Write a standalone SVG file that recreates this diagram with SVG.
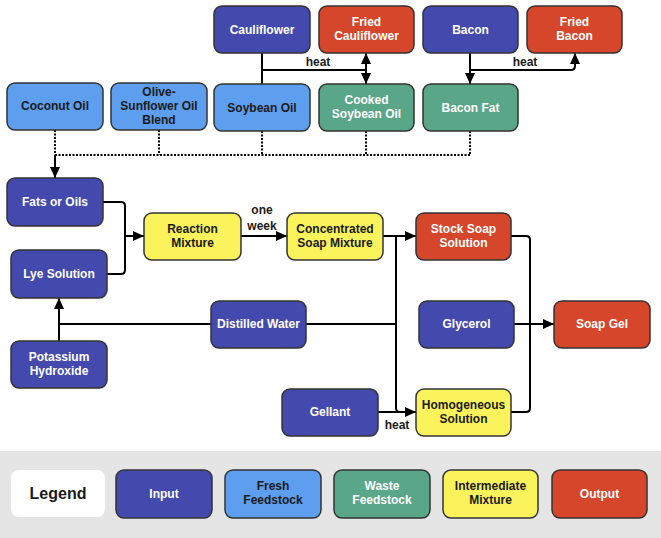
<svg xmlns="http://www.w3.org/2000/svg" width="661" height="538" viewBox="0 0 661 538">
<style>
.n{stroke:#333;stroke-width:1.5}
.in{fill:#4449ad}
.fr{fill:#5d9eee}
.wa{fill:#5aa688}
.im{fill:#fbf35b}
.ou{fill:#d5462b}
text{font-family:"Liberation Sans",Arial,sans-serif;font-weight:bold;font-size:12px;text-anchor:middle}
.w{fill:#fff}
.d{fill:#1a1a1a}
.lbl{fill:#1a1a1a}
.c{fill:none;stroke:#000;stroke-width:2}
.dot{fill:none;stroke:#000;stroke-width:2;stroke-dasharray:2 1.5}
.a{marker-end:url(#ah)}
</style>
<defs>
<marker id="ah" markerUnits="userSpaceOnUse" markerWidth="12" markerHeight="10" refX="11" refY="5" orient="auto">
<path d="M0,0 L11,5 L0,10 z" fill="#000"/>
</marker>
</defs>
<rect x="0" y="451" width="661" height="87" fill="#e5e5e5"/>
<g id="connectors">
<path class="c" d="M262,53 V84"/>
<path class="c" d="M262,70 H366"/>
<path class="c a" d="M366,70 V53"/>
<path class="c a" d="M366,70 V84"/>
<path class="c a" d="M470,53 V84"/>
<path class="c a" d="M470,70 H571 Q575,70 575,66 V53"/>
<path class="dot" d="M55,130 V155 M159,130 V155 M262,131 V155 M366,131 V155 M470,131 V155 M55,155 H470"/>
<path class="c a" d="M55,155 V178"/>
<path class="c" d="M103,202 H121 Q125,202 125,206 V270 Q125,274 121,274 H107"/>
<path class="c a" d="M125,236 H144"/>
<path class="c a" d="M241,236 H287"/>
<path class="c a" d="M383,236 H416"/>
<path class="c" d="M396,236 V408 Q396,412 400,412"/>
<path class="c a" d="M378,412 H416"/>
<path class="c" d="M306,324 H396"/>
<path class="c" d="M211,324 H59"/>
<path class="c a" d="M59,341 V298"/>
<path class="c" d="M511,236 H526 Q530,236 530,240 V408 Q530,412 526,412 H511"/>
<path class="c a" d="M514,324 H554"/>
<text class="lbl" x="318" y="66">heat</text>
<text class="lbl" x="525" y="66">heat</text>
<text class="lbl" x="262" y="214">one</text>
<text class="lbl" x="262" y="230">week</text>
<text class="lbl" x="397" y="429">heat</text>
</g>
<g id="cauliflower"><rect class="n in" x="214" y="6" width="96" height="47" rx="8"/><text class="w" x="262" y="34">Cauliflower</text></g>
<g id="fried-cauliflower"><rect class="n ou" x="319" y="6" width="95" height="47" rx="8"/><text class="w" x="366.5" y="26">Fried</text><text class="w" x="366.5" y="40">Cauliflower</text></g>
<g id="bacon"><rect class="n in" x="423" y="6" width="95" height="47" rx="8"/><text class="w" x="470.5" y="34">Bacon</text></g>
<g id="fried-bacon"><rect class="n ou" x="527" y="6" width="95" height="47" rx="8"/><text class="w" x="574.5" y="26">Fried</text><text class="w" x="574.5" y="40">Bacon</text></g>
<g id="coconut-oil"><rect class="n fr" x="7" y="83" width="96" height="47" rx="8"/><text class="d" x="55" y="110">Coconut Oil</text></g>
<g id="olive-sunflower"><rect class="n fr" x="111" y="83" width="96" height="47" rx="8"/><text class="d" x="159" y="96">Olive-</text><text class="d" x="159" y="110">Sunflower Oil</text><text class="d" x="159" y="124">Blend</text></g>
<g id="soybean-oil"><rect class="n fr" x="214" y="84" width="96" height="47" rx="8"/><text class="d" x="262" y="112">Soybean Oil</text></g>
<g id="cooked-soybean-oil"><rect class="n wa" x="319" y="84" width="95" height="47" rx="8"/><text class="w" x="366.5" y="104">Cooked</text><text class="w" x="366.5" y="118">Soybean Oil</text></g>
<g id="bacon-fat"><rect class="n wa" x="423" y="84" width="95" height="47" rx="8"/><text class="w" x="470.5" y="112">Bacon Fat</text></g>
<g id="fats-or-oils"><rect class="n in" x="7" y="178" width="96" height="48" rx="8"/><text class="w" x="55" y="206">Fats or Oils</text></g>
<g id="lye-solution"><rect class="n in" x="11" y="250" width="96" height="48" rx="8"/><text class="w" x="59" y="278">Lye Solution</text></g>
<g id="reaction-mixture"><rect class="n im" x="144" y="213" width="97" height="47" rx="8"/><text class="d" x="192.5" y="233">Reaction</text><text class="d" x="192.5" y="247">Mixture</text></g>
<g id="concentrated-soap-mixture"><rect class="n im" x="287" y="213" width="96" height="47" rx="8"/><text class="d" x="335" y="233">Concentrated</text><text class="d" x="335" y="247">Soap Mixture</text></g>
<g id="stock-soap-solution"><rect class="n ou" x="416" y="213" width="95" height="47" rx="8"/><text class="w" x="463.5" y="233">Stock Soap</text><text class="w" x="463.5" y="247">Solution</text></g>
<g id="distilled-water"><rect class="n in" x="211" y="301" width="95" height="47" rx="8"/><text class="w" x="258.5" y="328">Distilled Water</text></g>
<g id="potassium-hydroxide"><rect class="n in" x="11" y="341" width="96" height="47" rx="8"/><text class="w" x="59" y="361">Potassium</text><text class="w" x="59" y="375">Hydroxide</text></g>
<g id="glycerol"><rect class="n in" x="419" y="301" width="95" height="47" rx="8"/><text class="w" x="466.5" y="328">Glycerol</text></g>
<g id="soap-gel"><rect class="n ou" x="554" y="301" width="96" height="47" rx="8"/><text class="w" x="602" y="328">Soap Gel</text></g>
<g id="gellant"><rect class="n in" x="282" y="389" width="96" height="47" rx="8"/><text class="w" x="330" y="416">Gellant</text></g>
<g id="homogeneous-solution"><rect class="n im" x="416" y="389" width="95" height="47" rx="8"/><text class="d" x="463.5" y="409">Homogeneous</text><text class="d" x="463.5" y="423">Solution</text></g>
<g id="legend">
<rect x="11" y="470" width="94" height="47" rx="8" fill="#fff"/><text class="d" x="58" y="499" style="font-size:16px">Legend</text>
<rect class="n in" x="116" y="470" width="96" height="48" rx="8"/><text class="w" x="164" y="498">Input</text>
<rect class="n fr" x="225" y="470" width="96" height="48" rx="8"/><text class="d" x="273" y="490">Fresh</text><text class="d" x="273" y="504">Feedstock</text>
<rect class="n wa" x="334" y="470" width="96" height="48" rx="8"/><text class="w" x="382" y="490">Waste</text><text class="w" x="382" y="504">Feedstock</text>
<rect class="n im" x="443" y="470" width="95" height="48" rx="8"/><text class="d" x="490.5" y="490">Intermediate</text><text class="d" x="490.5" y="504">Mixture</text>
<rect class="n ou" x="552" y="470" width="95" height="48" rx="8"/><text class="w" x="599.5" y="498">Output</text>
</g>
</svg>
